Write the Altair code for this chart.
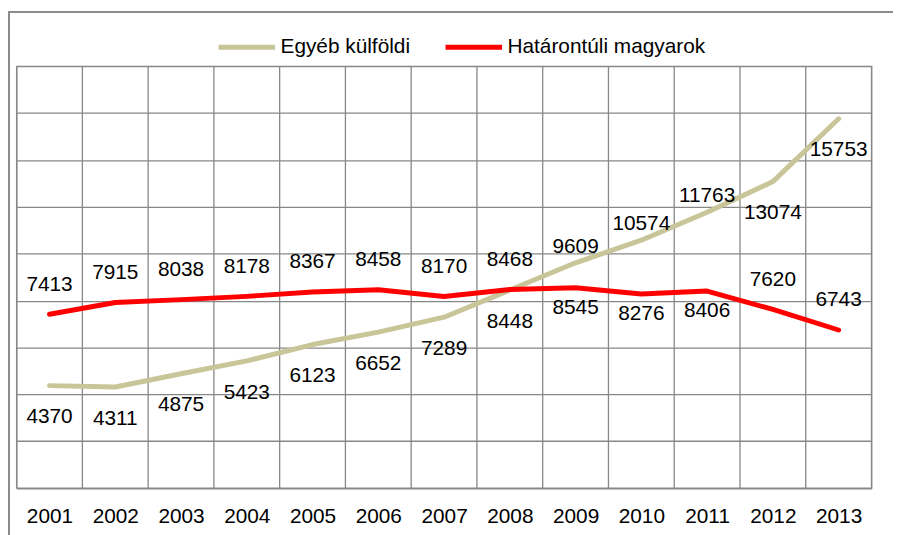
import altair as alt
import pandas as pd

# ---- data ----
years = [2001, 2002, 2003, 2004, 2005, 2006, 2007, 2008, 2009, 2010, 2011, 2012, 2013]
egyeb_kulfoldi = [4370, 4311, 4875, 5423, 6123, 6652, 7289, 8448, 9609, 10574, 11763, 13074, 15753]
hatarontuli_magyarok = [7413, 7915, 8038, 8178, 8367, 8458, 8170, 8468, 8545, 8276, 8406, 7620, 6743]
series_names = ["Egyéb külföldi", "Határontúli magyarok"]
y_ticks = [0, 2000, 4000, 6000, 8000, 10000, 12000, 14000, 16000, 18000]

# ---- layout / style (label placement as in the original) ----
egyeb_label_side = ["below"] * 8 + ["above"] * 3 + ["below"] * 2
hatar_label_side = ["above"] * 8 + ["below"] * 3 + ["above"] * 2
label_dy = {
    ("Egyéb külföldi", "below"): 32,
    ("Egyéb külföldi", "above"): -16,
    ("Határontúli magyarok", "above"): -30,
    ("Határontúli magyarok", "below"): 20,
}
colors = ["#C8C598", "#FF0000"]
FONT = "Liberation Sans"
FS = 21
GRID = "#878787"
W, H = 862.6, 425.7

rows = []
for name, vals, sides in [
    (series_names[0], egyeb_kulfoldi, egyeb_label_side),
    (series_names[1], hatarontuli_magyarok, hatar_label_side),
]:
    for yr, v, s in zip(years, vals, sides):
        rows.append({"year": yr, "value": v, "series": name, "side": s})
df = pd.DataFrame(rows)

edges = pd.DataFrame({"edge": [y - 0.5 for y in years] + [years[-1] + 0.5]})

x_scale = alt.Scale(domain=[years[0] - 0.5, years[-1] + 0.5], nice=False, zero=False)
y_scale = alt.Scale(domain=[y_ticks[0], y_ticks[-1]], nice=False)

x_axis = alt.Axis(
    values=years,
    format="d",
    grid=False,
    ticks=False,
    domain=False,
    labelFont=FONT,
    labelFontSize=FS,
    labelColor="#000000",
    labelPadding=29,
    labelBaseline="middle",
)
y_axis = alt.Axis(
    values=y_ticks,
    labels=False,
    ticks=False,
    domain=False,
    grid=True,
    gridColor=GRID,
    gridWidth=1.3,
)

base = alt.Chart(df)

vgrid = alt.Chart(edges).mark_rule(color=GRID, strokeWidth=1.3).encode(
    x=alt.X("edge:Q", scale=x_scale, title=None, axis=x_axis),
    y=alt.value(0),
    y2=alt.value(H),
)

lines = base.mark_line(strokeWidth=5, strokeCap="round", strokeJoin="round").encode(
    x=alt.X("year:Q", scale=x_scale, title=None, axis=x_axis),
    y=alt.Y("value:Q", scale=y_scale, title=None, axis=y_axis),
    color=alt.Color(
        "series:N",
        scale=alt.Scale(domain=series_names, range=colors),
        legend=alt.Legend(
            title=None,
            orient="none",
            direction="horizontal",
            legendX=201.3,
            legendY=-50,
            symbolType="stroke",
            symbolSize=3249,
            symbolStrokeWidth=5,
            labelFont=FONT,
            labelFontSize=FS,
            labelColor="#000000",
            labelLimit=400,
            labelOffset=3,
            columnPadding=25,
            padding=0,
        ),
    ),
    order=alt.Order("year:Q"),
)

texts = []
for (name, side), dy in label_dy.items():
    texts.append(
        base.transform_filter(
            (alt.datum.series == name) & (alt.datum.side == side)
        )
        .mark_text(font=FONT, fontSize=FS, color="#000000", dy=dy, baseline="middle", align="center")
        .encode(
            x=alt.X("year:Q", scale=x_scale, title=None, axis=x_axis),
            y=alt.Y("value:Q", scale=y_scale, title=None, axis=y_axis),
            text=alt.Text("value:Q", format="d"),
        )
    )

frame_top = alt.Chart(df).mark_rule(color="#8C8C8C", strokeWidth=1.5, clip=False).encode(
    x=alt.value(-7.9), x2=alt.value(890), y=alt.value(-54.8)
)
frame_left = alt.Chart(df).mark_rule(color="#8C8C8C", strokeWidth=1.5, clip=False).encode(
    x=alt.value(-7.9), y=alt.value(-54.8), y2=alt.value(480)
)

chart = (
    alt.layer(vgrid, lines, *texts, frame_top, frame_left)
    .properties(
        width=W,
        height=H,
        autosize=alt.AutoSizeParams(type="none"),
        padding={"left": 8.7, "top": 56.3, "right": 21.7, "bottom": 45},
        background="#FFFFFF",
    )
    .configure_view(stroke=GRID, strokeWidth=1.3)
)

chart.save("out.html", embed_options={"renderer": "svg", "actions": False})
